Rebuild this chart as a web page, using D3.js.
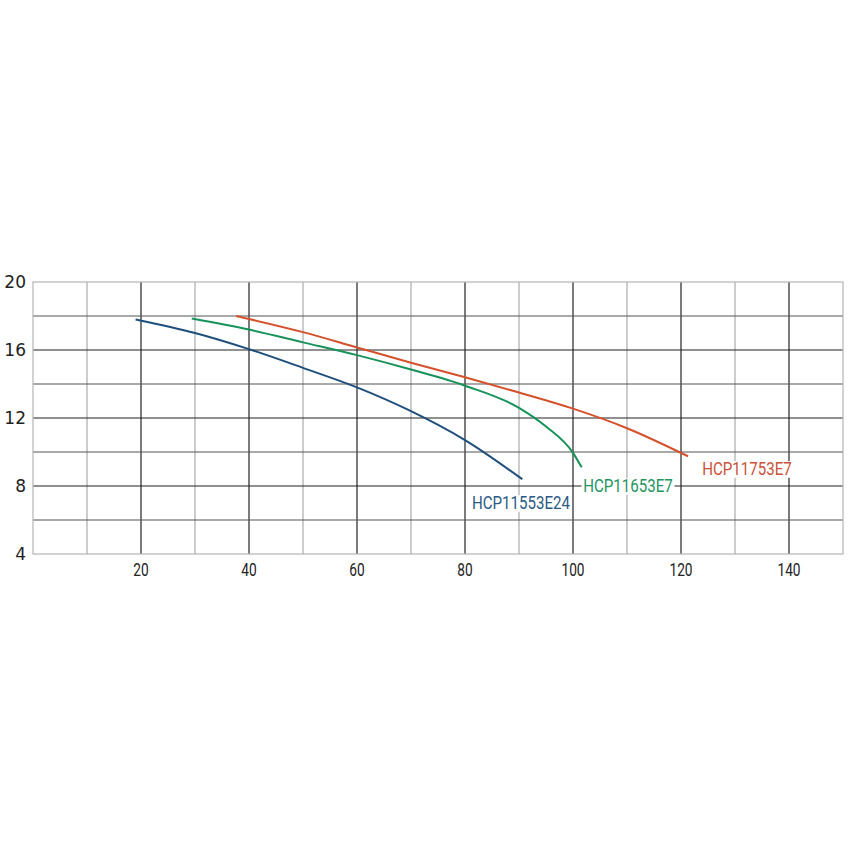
<!DOCTYPE html>
<html>
<head>
<meta charset="utf-8">
<script src="https://cdn.jsdelivr.net/npm/d3@7"></script>
<style>
  body { margin: 0; background: #fff; }
</style>
</head>
<body>
<script>
var width = 850;
var height = 850;

// flow (x) and head (y)
var blueFlow  = [19, 30, 40, 50, 60, 70, 80, 90.6];
var blueHead  = [17.8, 17.0, 16.05, 14.95, 13.8, 12.4, 10.7, 8.4];
var greenFlow = [29.4, 40, 50, 60, 70, 80, 90, 95, 100, 101.6];
var greenHead = [17.85, 17.2, 16.45, 15.7, 14.85, 13.9, 12.6, 11.5, 9.95, 9.1];
var redFlow   = [37.6, 50, 60, 70, 80, 90, 100, 110, 121.3];
var redHead   = [18.0, 17.05, 16.15, 15.25, 14.4, 13.5, 12.55, 11.4, 9.75];

var seriesNames = ["HCP11553E24", "HCP11653E7", "HCP11753E7"];
var xTicks = [20, 40, 60, 80, 100, 120, 140];
var yTicks = [4, 8, 12, 16, 20];

var colors = ["#1e4f7c", "#17935a", "#d4512b"];
var textColors = ["#2b5a85", "#23955f", "#c9533a"];

var series = [
    { name: seriesNames[0], x: blueFlow, y: blueHead, color: colors[0], text: textColors[0], lx: 521, ly: 503 },
    { name: seriesNames[1], x: greenFlow, y: greenHead, color: colors[1], text: textColors[1], lx: 628, ly: 486 },
    { name: seriesNames[2], x: redFlow, y: redHead, color: colors[2], text: textColors[2], lx: 747, ly: 469 }
];

var plotLeft = 33, plotRight = 843, plotTop = 282, plotBottom = 554;

var x = d3.scaleLinear().domain([0, 150]).range([plotLeft, plotRight]);
var y = d3.scaleLinear().domain([4, 20]).range([plotBottom, plotTop]);

var svg = d3.select("body")
    .append("svg")
    .attr("width", width)
    .attr("height", height);

// vertical grid
var vLines = d3.range(10, 150, 10);
svg.selectAll("line.v")
    .data(vLines)
    .enter()
    .append("line")
    .attr("class", "v")
    .attr("x1", function (d) { return x(d); })
    .attr("x2", function (d) { return x(d); })
    .attr("y1", plotTop)
    .attr("y2", plotBottom)
    .attr("stroke", function (d) { return d % 20 == 0 ? "#333" : "#999"; })
    .attr("stroke-width", function (d) { return d % 20 == 0 ? 1.3 : 1; });

// horizontal grid
var hLines = d3.range(6, 20, 2);
svg.selectAll("line.h")
    .data(hLines)
    .enter()
    .append("line")
    .attr("class", "h")
    .attr("x1", plotLeft)
    .attr("x2", plotRight)
    .attr("y1", function (d) { return y(d); })
    .attr("y2", function (d) { return y(d); })
    .attr("stroke", function (d) { return d % 4 == 0 ? "#222" : "#555"; })
    .attr("stroke-width", 1.2);

// frame
svg.append("rect")
    .attr("x", plotLeft)
    .attr("y", plotTop)
    .attr("width", plotRight - plotLeft)
    .attr("height", plotBottom - plotTop)
    .attr("fill", "none")
    .attr("stroke", "#b5b5b5")
    .attr("stroke-width", 1.2);

// y labels
svg.selectAll("text.yl")
    .data(yTicks)
    .enter()
    .append("text")
    .attr("class", "yl")
    .attr("x", 26)
    .attr("y", function (d) { return y(d); })
    .attr("dy", "0.36em")
    .attr("text-anchor", "end")
    .attr("font-family", "DejaVu Sans")
    .attr("font-size", 17)
    .attr("fill", "#222")
    .text(function (d) { return d; });

// x labels (narrow face: squeeze Roboto)
svg.selectAll("text.xl")
    .data(xTicks)
    .enter()
    .append("text")
    .attr("class", "xl")
    .attr("transform", function (d) { return "translate(" + x(d) + ",576) scale(0.76,1)"; })
    .attr("text-anchor", "middle")
    .attr("font-family", "Roboto")
    .attr("font-size", 18)
    .attr("fill", "#222")
    .text(function (d) { return d; });

var line = d3.line()
    .x(function (d) { return x(d[0]); })
    .y(function (d) { return y(d[1]); })
    .curve(d3.curveMonotoneX);

series.forEach(function (s) {
    var pts = s.x.map(function (v, i) { return [v, s.y[i]]; });
    svg.append("path")
        .attr("d", line(pts))
        .attr("fill", "none")
        .attr("stroke", s.color)
        .attr("stroke-width", 2);

    var g = svg.append("g")
        .attr("transform", "translate(" + s.lx + "," + s.ly + ") scale(0.84,1)");
    var t = g.append("text")
        .attr("dy", "0.36em")
        .attr("text-anchor", "middle")
        .attr("font-family", "Roboto")
        .attr("font-size", 18)
        .attr("fill", s.text)
        .text(s.name);
    var bb = t.node().getBBox();
    g.insert("rect", "text")
        .attr("x", bb.x - 2)
        .attr("y", bb.y + 2)
        .attr("width", bb.width + 4)
        .attr("height", bb.height - 4)
        .attr("fill", "#fff");
});
</script>
</body>
</html>
